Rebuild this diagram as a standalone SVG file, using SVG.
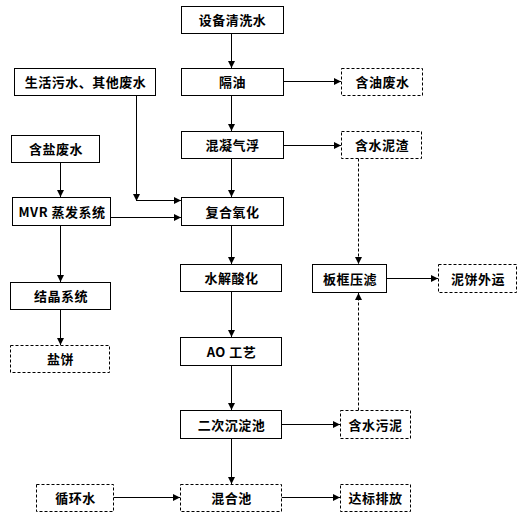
<svg xmlns="http://www.w3.org/2000/svg" width="521" height="517" viewBox="0 0 521 517">
<style>
.b{fill:#fff;stroke:#000;stroke-width:1}
.d{fill:#fff;stroke:#000;stroke-width:1;stroke-dasharray:3,2}
.t{font-family:"Noto Sans CJK SC","Liberation Sans",sans-serif;font-size:13px;font-weight:bold;fill:#000;text-anchor:middle;letter-spacing:0.5px}
.c line{stroke:#000;stroke-width:1;marker-end:url(#ah)}
.c .dl{stroke-dasharray:3,2}
</style>
<defs>
<marker id="ah" markerUnits="userSpaceOnUse" markerWidth="7" markerHeight="7" refX="7" refY="3.5" orient="auto">
<path d="M0,0 L7,3.5 L0,7 z" fill="#000"/>
</marker>
</defs>
<rect width="521" height="517" fill="#fff"/>
<g class="c" id="connectors">
<line x1="231.5" y1="33.5" x2="231.5" y2="68"/>
<line x1="231.5" y1="95.5" x2="231.5" y2="131"/>
<line x1="231.5" y1="158.5" x2="231.5" y2="197"/>
<line x1="231.5" y1="225.5" x2="231.5" y2="264"/>
<line x1="231.5" y1="291.5" x2="231.5" y2="337"/>
<line x1="231.5" y1="365.5" x2="231.5" y2="410"/>
<line x1="231.5" y1="438.5" x2="231.5" y2="484"/>
<line x1="283.5" y1="81.5" x2="341" y2="81.5"/>
<line x1="283.5" y1="145.5" x2="341" y2="145.5"/>
<line class="dl" x1="358.5" y1="158.5" x2="358.5" y2="264"/>
<line class="dl" x1="358.5" y1="410.5" x2="358.5" y2="293"/>
<line x1="386.5" y1="278.5" x2="438" y2="278.5"/>
<line x1="281.5" y1="424.5" x2="340" y2="424.5"/>
<line x1="281.5" y1="497.5" x2="340" y2="497.5"/>
<line x1="113.5" y1="497.5" x2="180" y2="497.5"/>
<line x1="136.5" y1="95.5" x2="136.5" y2="201"/>
<line x1="136.5" y1="200.5" x2="181" y2="200.5"/>
<line x1="110.5" y1="217.5" x2="181" y2="217.5"/>
<line x1="60.5" y1="162.5" x2="60.5" y2="197"/>
<line x1="60.5" y1="225.5" x2="60.5" y2="282"/>
<line x1="60.5" y1="309.5" x2="60.5" y2="345"/>
</g>
<g id="n1"><rect class="b" x="181.5" y="6.5" width="102" height="27"/><text class="t" x="232.5" y="25">设备清洗水</text></g>
<g id="n2"><rect class="b" x="181.5" y="68.5" width="102" height="27"/><text class="t" x="232.5" y="87">隔油</text></g>
<g id="n3"><rect class="b" x="181.5" y="131.5" width="102" height="27"/><text class="t" x="232.5" y="150">混凝气浮</text></g>
<g id="n4"><rect class="b" x="181.5" y="197.5" width="102" height="28"/><text class="t" x="232.5" y="216.5">复合氧化</text></g>
<g id="n5"><rect class="b" x="180.5" y="264.5" width="101" height="27"/><text class="t" x="231.5" y="283">水解酸化</text></g>
<g id="n6"><rect class="b" x="180.5" y="337.5" width="101" height="28"/><text class="t" x="231.5" y="356.5">AO 工艺</text></g>
<g id="n7"><rect class="b" x="180.5" y="410.5" width="101" height="28"/><text class="t" x="231.5" y="429.5">二次沉淀池</text></g>
<g id="n8"><rect class="d" x="180.5" y="484.5" width="101" height="27"/><text class="t" x="231.5" y="503">混合池</text></g>
<g id="n9"><rect class="b" x="14.5" y="68.5" width="141" height="27"/><text class="t" x="85.5" y="87">生活污水、其他废水</text></g>
<g id="n10"><rect class="b" x="11.5" y="135.5" width="88" height="27"/><text class="t" x="56" y="154">含盐废水</text></g>
<g id="n11"><rect class="b" x="12.5" y="197.5" width="98" height="28"/><text class="t" x="62" y="216.5">MVR 蒸发系统</text></g>
<g id="n12"><rect class="b" x="10.5" y="282.5" width="100" height="27"/><text class="t" x="61" y="301">结晶系统</text></g>
<g id="n13"><rect class="d" x="10.5" y="345.5" width="99" height="27"/><text class="t" x="60.5" y="364">盐饼</text></g>
<g id="n14"><rect class="d" x="36.5" y="484.5" width="77" height="27"/><text class="t" x="75.5" y="503">循环水</text></g>
<g id="n15"><rect class="d" x="341.5" y="68.5" width="81" height="27"/><text class="t" x="382.5" y="87">含油废水</text></g>
<g id="n16"><rect class="d" x="341.5" y="131.5" width="80" height="27"/><text class="t" x="382" y="150">含水泥渣</text></g>
<g id="n17"><rect class="b" x="312.5" y="264.5" width="74" height="28"/><text class="t" x="350" y="283.5">板框压滤</text></g>
<g id="n18"><rect class="d" x="438.5" y="264.5" width="78" height="28"/><text class="t" x="478" y="283.5">泥饼外运</text></g>
<g id="n19"><rect class="d" x="340.5" y="410.5" width="70" height="28"/><text class="t" x="375.5" y="429.5">含水污泥</text></g>
<g id="n20"><rect class="d" x="340.5" y="484.5" width="70" height="27"/><text class="t" x="375.5" y="503">达标排放</text></g>
</svg>
